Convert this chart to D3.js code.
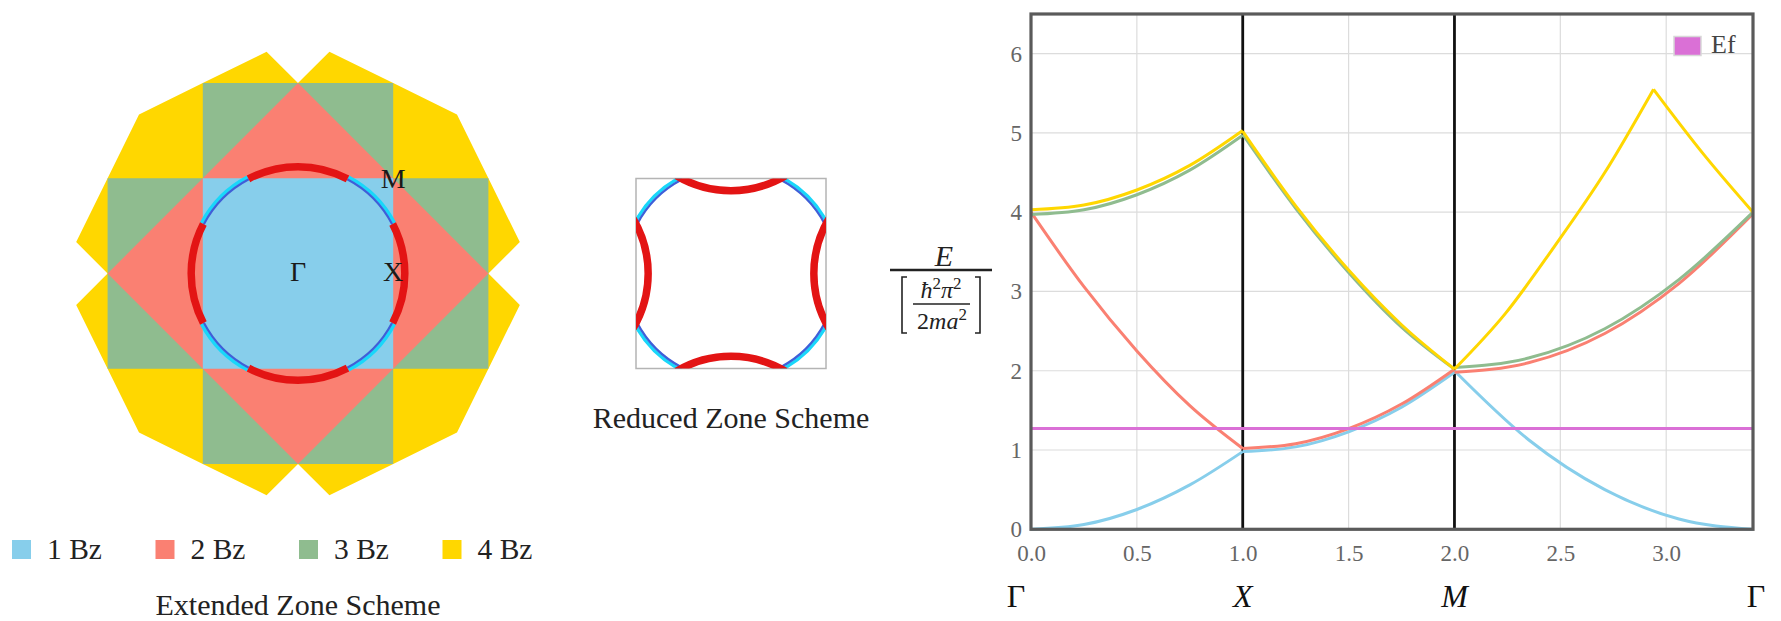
<!DOCTYPE html>
<html>
<head>
<meta charset="utf-8">
<title>Free electron bands - square lattice</title>
<script src="https://d3js.org/d3.v7.min.js"></script>
<style>
    html, body { margin: 0; padding: 0; background: #fff; }
    svg text { font-family: "Liberation Serif", "Times New Roman", serif; }
</style>
</head>
<body>
<div id="figure"></div>
<script>
//数据开始
//布里渊区图例
var zoneNames = ['1 Bz', '2 Bz', '3 Bz', '4 Bz'];
var zoneColors = ['#87ceeb', '#fa8072', '#8fbc8f', '#ffd700'];

//各个布里渊区的多边形顶点 (单位 π/a)
var zone1 = [[-1, 1], [1, 1], [1, -1], [-1, -1]];
var zone2 = [[0, 2], [2, 0], [0, -2], [-2, 0]];
var zone3 = [[-1, 2], [1, 2], [1, 1], [2, 1], [2, -1], [1, -1], [1, -2], [-1, -2],
    [-1, -1], [-2, -1], [-2, 1], [-1, 1]];
var zone4 = [[0, 2], [0.33, 2.33], [1, 2], [1.67, 1.67], [2, 1], [2.33, 0.33], [2, 0],
    [2.33, -0.33], [2, -1], [1.67, -1.67], [1, -2], [0.33, -2.33], [0, -2],
    [-0.33, -2.33], [-1, -2], [-1.67, -1.67], [-2, -1], [-2.33, -0.33], [-2, 0],
    [-2.33, 0.33], [-2, 1], [-1.67, 1.67], [-1, 2], [-0.33, 2.33]];
var zoneLabels = ['Γ', 'X', 'M'];
var zoneLabelK = [[0, 0], [1, 0], [1, 1]];

//费米圆
var fermiK = 1.128;
//费米圆上落在第二区的弧（角度，度）
var redArcs = [[-27.6, 27.6], [62.4, 117.6], [152.4, 207.6], [242.4, 297.6]];
//费米圆上落在第一区的弧
var blueArcs = [[27.6, 62.4], [117.6, 152.4], [207.6, 242.4], [297.6, 332.4]];
//简约区里红色弧平移的倒格矢
var redShift = [[-2, 0], [0, -2], [2, 0], [0, 2]];

//能带图
var symLabels = ['Γ', 'X', 'M', 'Γ'];
var symPos = [0, 1, 2, 3.41];
var xTicks = [0, 0.5, 1, 1.5, 2, 2.5, 3];
var yTicks = [0, 1, 2, 3, 4, 5, 6];
var yMax = 6.5;
var fermiE = 1.27;

//每条能带分成 Γ-X, X-M, M-Γ 几段
var band1 = [
    [[0, 0], [0.25, 0.06], [0.5, 0.25], [0.75, 0.56], [1, 0.98]],
    [[1, 0.98], [1.25, 1.04], [1.5, 1.23], [1.75, 1.54], [2, 1.98]],
    [[2, 2], [2.35, 1.13], [2.71, 0.5], [3.06, 0.13], [3.41, 0]]
];
var band2 = [
    [[0, 4], [0.25, 3.06], [0.5, 2.25], [0.75, 1.56], [1, 1.02]],
    [[1, 1.02], [1.25, 1.08], [1.5, 1.27], [1.75, 1.58], [2, 2.02]],
    [[2, 1.98], [2.35, 2.1], [2.71, 2.47], [3.06, 3.1], [3.41, 3.98]]
];
var band3 = [
    [[0, 3.97], [0.25, 4.03], [0.5, 4.22], [0.75, 4.53], [1, 4.97]],
    [[1, 4.98], [1.25, 4.05], [1.5, 3.24], [1.75, 2.55], [2, 2.02]],
    [[2, 2.04], [2.35, 2.16], [2.71, 2.53], [3.06, 3.15], [3.41, 4.0]]
];
var band4 = [
    [[0, 4.03], [0.25, 4.09], [0.5, 4.28], [0.75, 4.59], [1, 5.03]],
    [[1, 5.02], [1.25, 4.08], [1.5, 3.27], [1.75, 2.58], [2, 2.02]],
    [[2, 2.02], [2.24, 2.72], [2.47, 3.56], [2.71, 4.5], [2.94, 5.55]],
    [[2.94, 5.55], [3.18, 4.72], [3.41, 4.0]]
];
var bands = [band1, band2, band3, band4];
//数据结束

var svg = d3.select('#figure').append('svg')
    .attr('width', 1781)
    .attr('height', 621);

function toPoints(poly, sx, sy) {
    return poly.map(function(d) {
        return sx(d[0]) + ',' + sy(d[1]);
    }).join(' ');
}

//画一段费米弧，角度按数学方向（逆时针）
function arcPath(sx, sy, cx, cy, r, a0, a1) {
    var p = d3.path();
    var rad = Math.PI / 180;
    var rpx = sx(r) - sx(0);
    p.arc(sx(cx), sy(cy), rpx, -a1 * rad, -a0 * rad);
    return p.toString();
}

//扩展区图开始
var kx = d3.scaleLinear().domain([-1, 1]).range([202.8, 393.2]);
var ky = d3.scaleLinear().domain([-1, 1]).range([368.7, 178.3]);
var extG = svg.append('g').attr('class', 'extended');

[zone4, zone3, zone2, zone1].forEach(function(poly, i) {
    extG.append('polygon')
        .attr('points', toPoints(poly, kx, ky))
        .attr('fill', zoneColors[3 - i]);
});

blueArcs.forEach(function(a) {
    extG.append('path')
        .attr('d', arcPath(kx, ky, 0, 0, fermiK + 0.016, a[0], a[1]))
        .attr('fill', 'none')
        .attr('stroke', '#19d7fa')
        .attr('stroke-width', 3.5);
    extG.append('path')
        .attr('d', arcPath(kx, ky, 0, 0, fermiK - 0.012, a[0], a[1]))
        .attr('fill', 'none')
        .attr('stroke', '#3f5fd8')
        .attr('stroke-width', 2.2);
});
redArcs.forEach(function(a) {
    extG.append('path')
        .attr('d', arcPath(kx, ky, 0, 0, fermiK - 0.006, a[0], a[1]))
        .attr('fill', 'none')
        .attr('stroke', '#e31414')
        .attr('stroke-width', 7.5);
});

zoneLabels.forEach(function(t, i) {
    extG.append('text')
        .attr('x', kx(zoneLabelK[i][0]))
        .attr('y', ky(zoneLabelK[i][1]) + (i == 2 ? 10 : 7))
        .attr('text-anchor', 'middle')
        .attr('font-size', 28)
        .attr('fill', '#1a1a1a')
        .text(t);
});

//图例
var legendG = svg.append('g').attr('class', 'zone_legend');
zoneNames.forEach(function(n, i) {
    legendG.append('rect')
        .attr('x', 12 + i * 143.5)
        .attr('y', 540)
        .attr('width', 19)
        .attr('height', 19)
        .attr('fill', zoneColors[i]);
    legendG.append('text')
        .attr('x', 47 + i * 143.5)
        .attr('y', 559)
        .attr('font-size', 29.5)
        .attr('fill', '#222')
        .text(n);
});
svg.append('text')
    .attr('x', 298)
    .attr('y', 615)
    .attr('text-anchor', 'middle')
    .attr('font-size', 30)
    .attr('fill', '#222')
    .text('Extended Zone Scheme');
//扩展区图结束

//简约区图开始
var rx = d3.scaleLinear().domain([-1, 1]).range([636, 826]);
var ry = d3.scaleLinear().domain([-1, 1]).range([368.5, 178.5]);
var redG = svg.append('g').attr('class', 'reduced');
redG.append('clipPath').attr('id', 'reduced_clip')
    .append('rect')
    .attr('x', rx(-1)).attr('y', ry(1))
    .attr('width', rx(1) - rx(-1)).attr('height', ry(-1) - ry(1));
redG.append('rect')
    .attr('x', rx(-1)).attr('y', ry(1))
    .attr('width', rx(1) - rx(-1)).attr('height', ry(-1) - ry(1))
    .attr('fill', 'none')
    .attr('stroke', '#b4b4b4')
    .attr('stroke-width', 1.5);
var arcsG = redG.append('g').attr('clip-path', 'url(#reduced_clip)');
blueArcs.forEach(function(a) {
    arcsG.append('path')
        .attr('d', arcPath(rx, ry, 0, 0, fermiK + 0.016, a[0], a[1]))
        .attr('fill', 'none')
        .attr('stroke', '#19d7fa')
        .attr('stroke-width', 3.5);
    arcsG.append('path')
        .attr('d', arcPath(rx, ry, 0, 0, fermiK - 0.012, a[0], a[1]))
        .attr('fill', 'none')
        .attr('stroke', '#3f5fd8')
        .attr('stroke-width', 2.2);
});
redArcs.forEach(function(a, i) {
    arcsG.append('path')
        .attr('d', arcPath(rx, ry, redShift[i][0], redShift[i][1], fermiK, a[0] - 3, a[1] + 3))
        .attr('fill', 'none')
        .attr('stroke', '#e31414')
        .attr('stroke-width', 7.5);
});
svg.append('text')
    .attr('x', 731)
    .attr('y', 428)
    .attr('text-anchor', 'middle')
    .attr('font-size', 30)
    .attr('fill', '#222')
    .text('Reduced Zone Scheme');
//简约区图结束

//纵轴单位开始
var unitG = svg.append('g').attr('class', 'unit').attr('fill', '#222');
unitG.append('text')
    .attr('x', 944).attr('y', 266)
    .attr('text-anchor', 'middle')
    .attr('font-size', 30)
    .attr('font-style', 'italic')
    .text('E');
unitG.append('line')
    .attr('x1', 890).attr('x2', 992)
    .attr('y1', 270).attr('y2', 270)
    .attr('stroke', '#222').attr('stroke-width', 2.5);
unitG.append('path')
    .attr('d', 'M907,277H902V333H907M975,277H980V333H975')
    .attr('fill', 'none').attr('stroke', '#222').attr('stroke-width', 1.6);
var num = unitG.append('text')
    .attr('x', 941).attr('y', 298)
    .attr('text-anchor', 'middle')
    .attr('font-size', 24);
num.append('tspan').attr('font-style', 'italic').text('ħ');
num.append('tspan').attr('font-size', 17).attr('dy', -9).text('2');
num.append('tspan').attr('font-style', 'italic').attr('dy', 9).text('π');
num.append('tspan').attr('font-size', 17).attr('dy', -9).text('2');
unitG.append('line')
    .attr('x1', 913).attr('x2', 970)
    .attr('y1', 304).attr('y2', 304)
    .attr('stroke', '#222').attr('stroke-width', 1.3);
var den = unitG.append('text')
    .attr('x', 942).attr('y', 329)
    .attr('text-anchor', 'middle')
    .attr('font-size', 24);
den.append('tspan').text('2');
den.append('tspan').attr('font-style', 'italic').text('ma');
den.append('tspan').attr('font-size', 17).attr('dy', -9).text('2');
//纵轴单位结束

//能带图开始
var chartLeft = 1031, chartRight = 1753, chartTop = 14, chartBottom = 529.3;
var x = d3.scaleLinear().domain([0, symPos[3]]).range([chartLeft, chartRight]);
var y = d3.scaleLinear().domain([0, yMax]).range([chartBottom, chartTop]);
var bandG = svg.append('g').attr('class', 'bands');

//网格
bandG.append('g').selectAll('line')
    .data(xTicks.slice(1))
    .enter()
    .append('line')
    .attr('x1', function(d) { return x(d); })
    .attr('x2', function(d) { return x(d); })
    .attr('y1', chartTop).attr('y2', chartBottom)
    .attr('stroke', '#dcdcdc').attr('stroke-width', 1.2);
bandG.append('g').selectAll('line')
    .data(yTicks.slice(1))
    .enter()
    .append('line')
    .attr('y1', function(d) { return y(d); })
    .attr('y2', function(d) { return y(d); })
    .attr('x1', chartLeft).attr('x2', chartRight)
    .attr('stroke', '#dcdcdc').attr('stroke-width', 1.2);

//坐标轴
var xAxis = bandG.append('g')
    .attr('transform', 'translate(0,' + chartBottom + ')')
    .call(d3.axisBottom(x).tickValues(xTicks).tickFormat(d3.format('.1f')).tickSize(0).tickPadding(15));
var yAxis = bandG.append('g')
    .attr('transform', 'translate(' + chartLeft + ',0)')
    .call(d3.axisLeft(y).tickValues(yTicks).tickFormat(d3.format('d')).tickSize(0).tickPadding(9));
[xAxis, yAxis].forEach(function(g) {
    g.select('.domain').remove();
    g.attr('font-family', null).attr('font-size', null);
    g.selectAll('text')
        .attr('font-size', 23)
        .attr('fill', '#666');
});

//高对称点竖线
bandG.append('g').selectAll('line')
    .data(symPos.slice(1, 3))
    .enter()
    .append('line')
    .attr('x1', function(d) { return x(d); })
    .attr('x2', function(d) { return x(d); })
    .attr('y1', chartTop).attr('y2', chartBottom)
    .attr('stroke', '#111').attr('stroke-width', 2.8);

//能带曲线
var line = d3.line()
    .x(function(d) { return x(d[0]); })
    .y(function(d) { return y(d[1]); })
    .curve(d3.curveMonotoneX);
bands.forEach(function(band, i) {
    bandG.append('g').selectAll('path')
        .data(band)
        .enter()
        .append('path')
        .attr('d', line)
        .attr('fill', 'none')
        .attr('stroke', zoneColors[i])
        .attr('stroke-width', 3)
        .attr('stroke-linejoin', 'round');
});

//费米能级
bandG.append('line')
    .attr('x1', x(0)).attr('x2', x(symPos[3]))
    .attr('y1', y(fermiE)).attr('y2', y(fermiE))
    .attr('stroke', '#da70d6').attr('stroke-width', 3);

//外框
bandG.append('rect')
    .attr('x', chartLeft).attr('y', chartTop)
    .attr('width', chartRight - chartLeft).attr('height', chartBottom - chartTop)
    .attr('fill', 'none')
    .attr('stroke', '#5a5a5a').attr('stroke-width', 3.2);

//Ef 图例
bandG.append('rect')
    .attr('x', 1674).attr('y', 36.5)
    .attr('width', 27).attr('height', 19)
    .attr('fill', '#da70d6')
    .attr('stroke', '#d8d8d8').attr('stroke-width', 1.5);
bandG.append('text')
    .attr('x', 1711).attr('y', 53)
    .attr('font-size', 26)
    .attr('fill', '#444')
    .text('Ef');

//高对称点标签
bandG.append('g').selectAll('text')
    .data(symLabels)
    .enter()
    .append('text')
    .attr('x', function(d, i) {
        var px = x(symPos[i]);
        if (i == 0) return px - 15;
        if (i == 3) return px + 3;
        return px;
    })
    .attr('y', 607)
    .attr('text-anchor', 'middle')
    .attr('font-size', 32)
    .attr('font-style', function(d) { return d == 'Γ' ? 'normal' : 'italic'; })
    .attr('fill', '#111')
    .text(function(d) { return d; });
//能带图结束
</script>
</body>
</html>
